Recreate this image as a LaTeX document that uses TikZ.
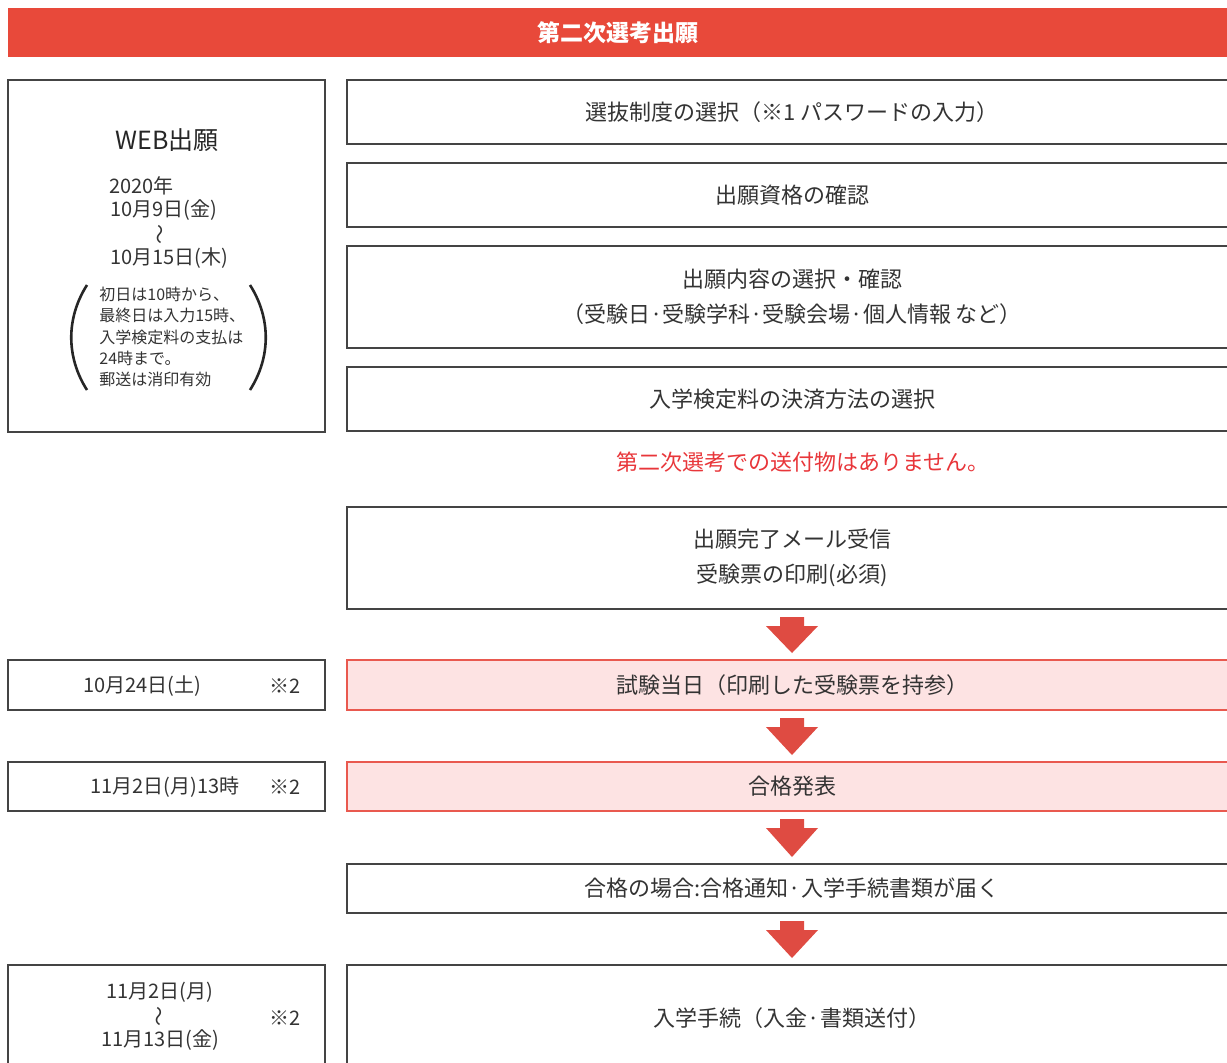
\documentclass[tikz,border=0pt]{standalone}
\usepackage{fontspec}
\setmainfont{Noto Sans CJK JP}
\usetikzlibrary{positioning}

\definecolor{headred}{HTML}{E8493A}
\definecolor{arrowred}{HTML}{DF4B42}
\definecolor{notered}{HTML}{E8363A}
\definecolor{pinkfill}{HTML}{FDE3E3}
\definecolor{pinkline}{HTML}{E9594F}
\definecolor{boxgray}{HTML}{444444}
\definecolor{textgray}{HTML}{333333}

\tikzset{
  stepbox/.style={draw=boxgray, line width=0.6pt, inner sep=0pt, outer sep=0pt,
    minimum width=445pt, align=center, text=textgray,
    font=\fontsize{11}{17.5}\selectfont},
  hotbox/.style={stepbox, draw=pinkline, fill=pinkfill},
  datebox/.style={draw=boxgray, line width=0.6pt, inner sep=0pt, outer sep=0pt,
    minimum width=158.5pt},
  datetext/.style={text=textgray, inner sep=0pt, font=\fontsize{10}{12}\selectfont},
  wave/.style={text=textgray, inner sep=0pt, rotate=90, font=\fontsize{10}{10}\selectfont}
}

% block arrow from one box down to the next
\newcommand{\flowarrow}[2]{%
  \fill[arrowred] ([xshift=-6pt,yshift=-4pt]#1.south) -- ([xshift=6pt,yshift=-4pt]#1.south)
    -- ([xshift=6pt,yshift=-8.5pt]#1.south) -- ([xshift=13pt,yshift=-8.5pt]#1.south)
    -- ([yshift=3.5pt]#2.north) -- ([xshift=-13pt,yshift=-8.5pt]#1.south)
    -- ([xshift=-6pt,yshift=-8.5pt]#1.south) -- cycle;}

\begin{document}
\begin{tikzpicture}[x=0.5pt, y=-0.5pt]
  \useasboundingbox (0,0) rectangle (1227,1062);
  \clip (0,0) rectangle (1227,1062);

  % Header bar
  \node[fill=headred, minimum width=609.5pt, minimum height=24.5pt, inner sep=0pt,
    text=white, font=\fontsize{11.5}{14}\selectfont\bfseries] (head) at (617.5,32.5) {第二次選考出願};

  % WEB application period (left)
  \node[datebox, minimum height=176pt] (web) at (166.5,256) {};
  \node[text=black!85, inner sep=0pt, font=\fontsize{12.5}{14}\selectfont] (webtitle) at (167,140) {WEB出願};
  \node[datetext, anchor=west] (year) at (109,186) {2020年};
  \node[datetext, anchor=west] (start) at (110,210) {10月9日(金)};
  \node[wave] (webwave) at (162,234) {〜};
  \node[datetext, anchor=west] (end) at (110,258) {10月15日(木)};
  \node[text=textgray, inner sep=0pt, anchor=west, align=left,
    font=\fontsize{8}{10.6}\selectfont] (webnote) at (99,337)
    {初日は10時から、\\最終日は入力15時、\\入学検定料の支払は\\24時まで。\\郵送は消印有効};
  \draw[line width=1.3pt, black!85] (87,285) .. controls (66,318) and (66,357) .. (87,390);
  \draw[line width=1.3pt, black!85] (250,285) .. controls (271,318) and (271,357) .. (250,390);

  % Web application steps (right)
  \node[stepbox, minimum height=32pt] (system) at (792,112) {選抜制度の選択（※1 パスワードの入力）};
  \node[stepbox, minimum height=32pt] (check) at (792,195) {出願資格の確認};
  \node[stepbox, minimum height=51pt] (content) at (792,297)
    {出願内容の選択・確認\\（受験日·受験学科·受験会場·個人情報 など）};
  \node[stepbox, minimum height=32pt] (payment) at (792,399) {入学検定料の決済方法の選択};
  \node[text=notered, inner sep=0pt, font=\fontsize{11}{13}\selectfont] (nomail) at (803,462)
    {第二次選考での送付物はありません。};
  \node[stepbox, minimum height=51pt] (mail) at (792,558) {出願完了メール受信\\受験票の印刷(必須)};

  % Exam day
  \node[datebox, minimum height=25pt] (examdate) at (166.5,685) {};
  \node[datetext] (examday) at (142,686) {10月24日(土)};
  \node[datetext] (examnote) at (285,686) {※2};
  \node[hotbox, minimum height=25pt] (exam) at (792,685) {試験当日（印刷した受験票を持参）};

  % Results
  \node[datebox, minimum height=24.5pt] (resultdate) at (166.5,786.5) {};
  \node[datetext] (resultday) at (165,787) {11月2日(月)13時};
  \node[datetext] (resultnote) at (285,787) {※2};
  \node[hotbox, minimum height=24.5pt] (result) at (792,786.5) {合格発表};

  % Notice
  \node[stepbox, minimum height=24.5pt] (notice) at (792,888.5) {合格の場合:合格通知·入学手続書類が届く};

  % Enrolment
  \node[datebox, minimum height=53.5pt] (procdate) at (166.5,1018.5) {};
  \node[datetext] (procstart) at (160,992) {11月2日(月)};
  \node[wave] (procwave) at (161,1016) {〜};
  \node[datetext] (procend) at (160,1040) {11月13日(金)};
  \node[datetext] (procnote) at (285,1018) {※2};
  \node[stepbox, minimum height=53.5pt] (proc) at (792,1018.5) {入学手続（入金·書類送付）};

  % Arrows
  \flowarrow{mail}{exam}
  \flowarrow{exam}{result}
  \flowarrow{result}{notice}
  \flowarrow{notice}{proc}
\end{tikzpicture}
\end{document}
